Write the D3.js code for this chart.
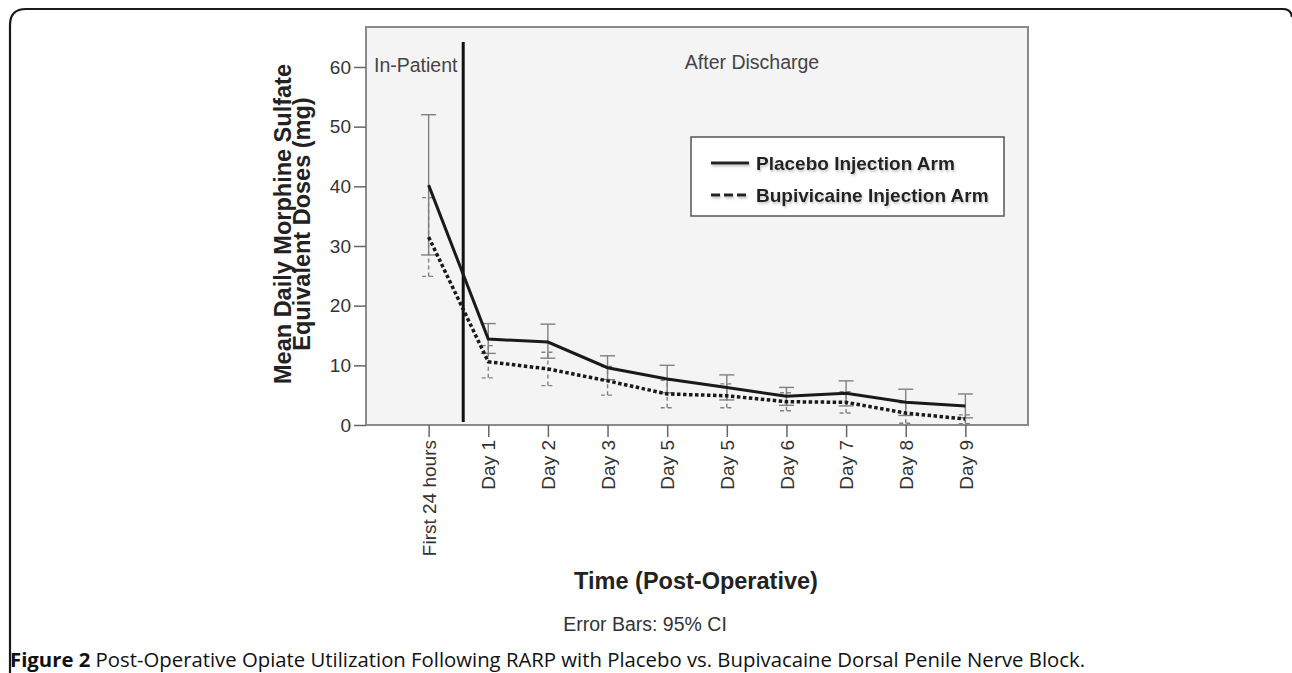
<!DOCTYPE html>
<html>
<head>
<meta charset="utf-8">
<script src="https://cdn.jsdelivr.net/npm/d3@7"></script>
<style>
  body { margin: 0; background: #fff; }
  svg { display: block; }
  text { font-family: Arial, "Liberation Sans", sans-serif; }
</style>
</head>
<body>
<div id="chart"></div>
<script>
// data (mg, mean and 95% CI)
var categories = ["First 24 hours", "Day 1", "Day 2", "Day 3", "Day 5", "Day 5", "Day 6", "Day 7", "Day 8", "Day 9"];
var placeboMean = [40.2, 14.4, 13.9, 9.6, 7.7, 6.3, 4.8, 5.3, 3.8, 3.2];
var placeboLow  = [28.5, 12.0, 11.2, 7.6, 5.4, 4.2, 3.3, 3.2, 1.6, 1.2];
var placeboHigh = [52.0, 17.0, 16.9, 11.6, 10.0, 8.4, 6.3, 7.4, 6.0, 5.2];
var bupiMean = [31.5, 10.6, 9.4, 7.4, 5.2, 4.9, 3.9, 3.8, 2.0, 1.0];
var bupiLow  = [24.9, 7.9, 6.6, 5.0, 2.9, 2.9, 2.4, 2.0, 0.3, 0.2];
var bupiHigh = [38.1, 13.3, 12.2, 9.8, 7.5, 6.9, 5.4, 5.6, 3.7, 1.7];
var yTicks = [0, 10, 20, 30, 40, 50, 60];
var dischargeAt = 0.58;   // between first 24 hours and day 1

var W = 1292, H = 673;
var margin = {left: 366, top: 27};
var pw = 662, ph = 398;

var svg = d3.select("#chart").append("svg")
    .attr("width", W)
    .attr("height", H);

// soft shadow used under the legend entries
var f = svg.append("defs").append("filter").attr("id", "shadow")
    .attr("x", "-5%").attr("y", "-30%").attr("width", "110%").attr("height", "170%");
f.append("feDropShadow").attr("dx", 1).attr("dy", 2).attr("stdDeviation", 1.2)
    .attr("flood-color", "#888").attr("flood-opacity", 0.5);

// frame round the figure
svg.append("path")
    .attr("d", "M10,673 V25 Q10,9 26,9 H1283 Q1291,9 1292,17")
    .attr("fill", "none")
    .attr("stroke", "#1a1a1a")
    .attr("stroke-width", 2.2);

var g = svg.append("g").attr("transform", "translate(" + margin.left + "," + margin.top + ")");

var x = d3.scaleLinear().domain([-1.05, 10.05]).range([0, pw]);
var y = d3.scaleLinear().domain([0, 66.7]).range([ph, 0]);

g.append("rect")
    .attr("width", pw).attr("height", ph)
    .attr("fill", "#f4f4f4")
    .attr("stroke", "#8a8a8a")
    .attr("stroke-width", 2);

// axes
var yAxis = g.append("g")
    .call(d3.axisLeft(y).tickValues(yTicks).tickSize(12).tickPadding(3));
var xAxis = g.append("g")
    .attr("transform", "translate(0," + ph + ")")
    .call(d3.axisBottom(x).tickValues(d3.range(categories.length))
      .tickFormat(function(i) { return categories[i]; }).tickSize(12));

[yAxis, xAxis].forEach(function(a) {
  a.select(".domain").remove();
  a.selectAll(".tick line").attr("stroke", "#666").attr("stroke-width", 1.5);
  a.selectAll(".tick text").attr("fill", "#333").style("font-size", "19px")
    .style("font-family", "Arial, 'Liberation Sans', sans-serif");
});
xAxis.selectAll(".tick text")
    .attr("transform", "rotate(-90)")
    .attr("text-anchor", "end")
    .attr("x", -15).attr("y", 0).attr("dy", "0.35em");

// in-patient / after discharge divider
g.append("line")
    .attr("x1", x(dischargeAt)).attr("x2", x(dischargeAt))
    .attr("y1", y(64.2)).attr("y2", y(0.5))
    .attr("stroke", "#111").attr("stroke-width", 3);

g.append("text").attr("x", 8).attr("y", 45)
    .attr("fill", "#444").style("font-size", "19.5px").text("In-Patient");
g.append("text").attr("x", 386).attr("y", 42).attr("text-anchor", "middle")
    .attr("fill", "#444").style("font-size", "19.5px").text("After Discharge");

// error bars
function errorBars(low, high, cap, dash) {
  var eb = g.append("g")
      .attr("stroke", "#808080")
      .attr("stroke-width", 1.4)
      .attr("stroke-dasharray", dash);
  eb.selectAll(".v").data(low).enter().append("line")
      .attr("x1", function(d, i) { return x(i); })
      .attr("x2", function(d, i) { return x(i); })
      .attr("y1", function(d) { return y(d); })
      .attr("y2", function(d, i) { return y(high[i]); });
  [low, high].forEach(function(arr) {
    eb.selectAll(null).data(arr).enter().append("line")
        .attr("x1", function(d, i) { return x(i) - cap / 2; })
        .attr("x2", function(d, i) { return x(i) + cap / 2; })
        .attr("y1", function(d) { return y(d); })
        .attr("y2", function(d) { return y(d); });
  });
}
errorBars(bupiLow, bupiHigh, 13, "4,3");
errorBars(placeboLow, placeboHigh, 15, null);

var line = d3.line()
    .x(function(d, i) { return x(i); })
    .y(function(d) { return y(d); });

g.append("path").datum(bupiMean)
    .attr("d", line)
    .attr("fill", "none")
    .attr("stroke", "#1a1a1a")
    .attr("stroke-width", 3.5)
    .attr("stroke-dasharray", "3.5,2.5");
g.append("path").datum(placeboMean)
    .attr("d", line)
    .attr("fill", "none")
    .attr("stroke", "#1a1a1a")
    .attr("stroke-width", 3);

// legend
var lg = svg.append("g").attr("transform", "translate(691,137)");
lg.append("rect").attr("width", 313).attr("height", 79)
    .attr("fill", "#fff").attr("stroke", "#555").attr("stroke-width", 1.5);
var items = [{name: "Placebo Injection Arm", dash: null}, {name: "Bupivicaine Injection Arm", dash: "9,4"}];
items.forEach(function(d, i) {
  var yy = 26 + i * 32;
  var row = lg.append("g").attr("filter", "url(#shadow)");
  row.append("line").attr("x1", 20).attr("x2", 58).attr("y1", yy).attr("y2", yy)
      .attr("stroke", "#222").attr("stroke-width", 3).attr("stroke-dasharray", d.dash);
  row.append("text").attr("x", 65).attr("y", yy).attr("dy", "0.35em")
      .attr("fill", "#222").style("font-size", "19px").style("font-weight", "bold")
      .text(d.name);
});

// axis titles
var yt = svg.append("text")
    .attr("transform", "translate(291,224) rotate(-90)")
    .attr("text-anchor", "middle")
    .attr("fill", "#222").style("font-size", "23.5px").style("font-weight", "bold");
yt.append("tspan").attr("x", 0).attr("y", 0).text("Mean Daily Morphine Sulfate");
yt.append("tspan").attr("x", 0).attr("y", 19).text("Equivalent Doses (mg)");

svg.append("text").attr("x", 696).attr("y", 589).attr("text-anchor", "middle")
    .attr("fill", "#222").style("font-size", "23.5px").style("font-weight", "bold")
    .text("Time (Post-Operative)");

svg.append("text").attr("x", 645).attr("y", 631).attr("text-anchor", "middle")
    .attr("fill", "#333").style("font-size", "19.5px")
    .text("Error Bars: 95% CI");

// caption
var cap = svg.append("text").attr("x", 10).attr("y", 667)
    .attr("fill", "#111").style("font-size", "20px")
    .style("font-family", "'Open Sans', 'Noto Sans', sans-serif")
    .attr("textLength", 1075).attr("lengthAdjust", "spacingAndGlyphs");
cap.append("tspan").style("font-weight", "bold").text("Figure 2");
cap.append("tspan").text(" Post-Operative Opiate Utilization Following RARP with Placebo vs. Bupivacaine Dorsal Penile Nerve Block.");
</script>
</body>
</html>
